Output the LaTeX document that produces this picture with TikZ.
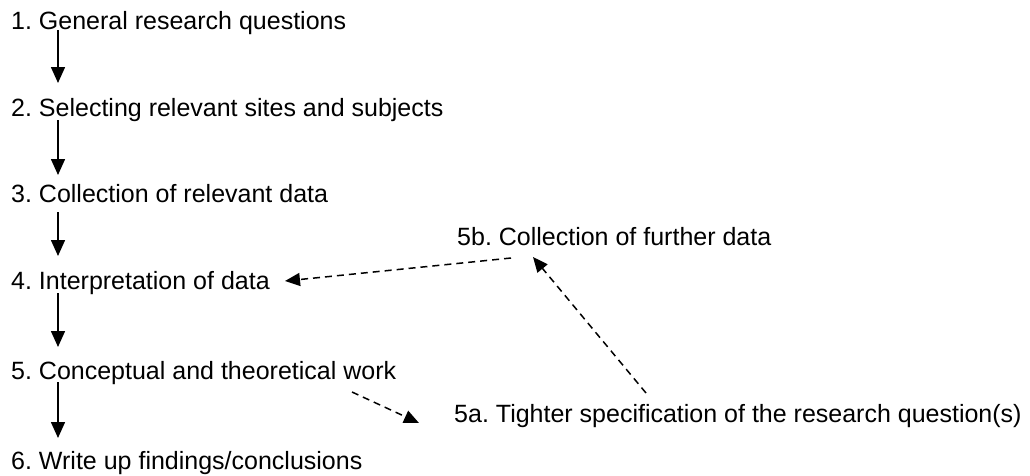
\documentclass[tikz,border=0pt]{standalone}
\usepackage{fontspec}
\setmainfont{Liberation Sans}
\usetikzlibrary{arrows.meta}
\begin{document}
\frenchspacing
\begin{tikzpicture}[x=1pt,y=-1pt,
  lbl/.style={anchor=base west,inner sep=0pt,font=\fontsize{25}{30}\selectfont},
  solidarrow/.style={line width=1.5pt,-{Triangle[length=16pt,width=14pt]}},
  dasharrow/.style={line width=1.5pt,dash pattern=on 7pt off 5pt,-{Triangle[length=15pt,width=13pt]}}]
\useasboundingbox (0,0) rectangle (1030,475);
\node[lbl] (n1) at (11,29) {1. General research questions};
\node[lbl] (n2) at (11,116) {2. Selecting relevant sites and subjects};
\node[lbl] (n3) at (11,202) {3. Collection of relevant data};
\node[lbl] (n4) at (11,289) {4. Interpretation of data};
\node[lbl] (n5) at (11,379) {5. Conceptual and theoretical work};
\node[lbl] (n6) at (11,469) {6. Write up findings/conclusions};
\node[lbl] (n5b) at (457,245) {5b. Collection of further data};
\node[lbl] (n5a) at (454,422) {5a. Tighter specification of the research question(s)};
% connector end points
\coordinate (a1s) at (58,30);  \coordinate (a1e) at (58,83);
\coordinate (a2s) at (58,120); \coordinate (a2e) at (58,175);
\coordinate (a3s) at (58,212); \coordinate (a3e) at (58,256);
\coordinate (a4s) at (58,293); \coordinate (a4e) at (58,347);
\coordinate (a5s) at (58,382); \coordinate (a5e) at (58,438);
\coordinate (d1s) at (352,392); \coordinate (d1e) at (419,423);
\coordinate (d2s) at (646,393); \coordinate (d2e) at (533,257);
\coordinate (d3s) at (511,258); \coordinate (d3e) at (285,281);
\draw[solidarrow] (a1s) -- (a1e);
\draw[solidarrow] (a2s) -- (a2e);
\draw[solidarrow] (a3s) -- (a3e);
\draw[solidarrow] (a4s) -- (a4e);
\draw[solidarrow] (a5s) -- (a5e);
\draw[dasharrow] (d1s) -- (d1e);
\draw[dasharrow] (d2s) -- (d2e);
\draw[dasharrow] (d3s) -- (d3e);
\end{tikzpicture}
\end{document}
